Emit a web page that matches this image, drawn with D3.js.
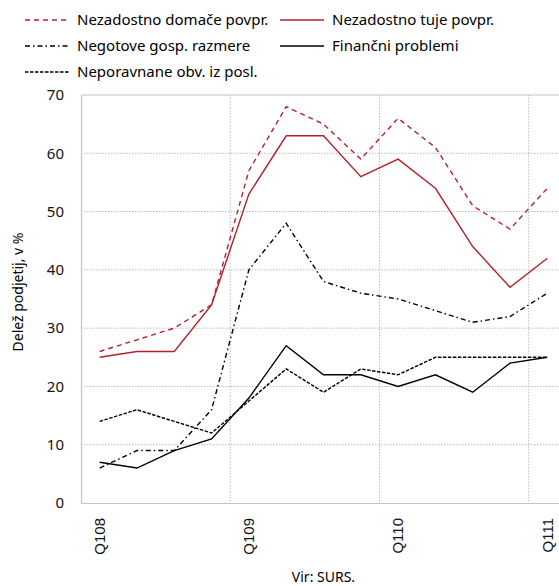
<!DOCTYPE html>
<html>
<head>
<meta charset="utf-8">
<script src="https://cdn.jsdelivr.net/npm/d3@7"></script>
<style>
  body { margin: 0; background: #fff; }
  svg { font-family: "Noto Sans", "Open Sans", sans-serif; }
</style>
</head>
<body>
<script>
// quarters, Q1 08 .. Q1 11
var quarters = ["Q1 08", "Q2 08", "Q3 08", "Q4 08", "Q1 09", "Q2 09", "Q3 09", "Q4 09",
                "Q1 10", "Q2 10", "Q3 10", "Q4 10", "Q1 11"];
var tickLabels = ["Q1 08", "Q1 09", "Q1 10", "Q1 11"];
var yTicks = [0, 10, 20, 30, 40, 50, 60, 70];

var domace = [26, 28, 30, 34, 57, 68, 65, 59, 66, 61, 51, 47, 54];
var tuje = [25, 26, 26, 34, 53, 63, 63, 56, 59, 54, 44, 37, 42];
var negotove = [6, 9, 9, 16, 40, 48, 38, 36, 35, 33, 31, 32, 36];
var financni = [7, 6, 9, 11, 18, 27, 22, 22, 20, 22, 19, 24, 25];
var neporavnane = [14, 16, 14, 12, 17.5, 23, 19, 23, 22, 25, 25, 25, 25];

var seriesNames = ["Nezadostno domače povpr.", "Nezadostno tuje povpr.", "Negotove gosp. razmere",
                   "Finančni problemi", "Neporavnane obv. iz posl."];

var red = "#b2222b";
var series = [
    {name: seriesNames[0], values: domace, color: red, dash: "5,4"},
    {name: seriesNames[1], values: tuje, color: red, dash: null},
    {name: seriesNames[2], values: negotove, color: "#000", dash: "5,3,1.5,3"},
    {name: seriesNames[3], values: financni, color: "#000", dash: null},
    {name: seriesNames[4], values: neporavnane, color: "#000", dash: "3.5,1.5"}
];

var width = 559, height = 586;
var plotLeft = 81, plotRight = 566, plotTop = 95, plotBottom = 503;

var svg = d3.select("body").append("svg")
    .attr("width", width)
    .attr("height", height);

var x = d3.scaleBand().domain(quarters).range([plotLeft, plotRight]).padding(0);
var y = d3.scaleLinear().domain([0, 70]).range([plotBottom, plotTop]);
var cx = function(q) { return x(q) + x.bandwidth() / 2; };

// horizontal grid
svg.append("g").selectAll("line")
    .data(yTicks.filter(function(t) { return t > 0 && t < 70; }))
    .enter().append("line")
    .attr("x1", plotLeft).attr("x2", plotRight)
    .attr("y1", function(d) { return y(d); }).attr("y2", function(d) { return y(d); })
    .style("stroke", "#bbb").style("stroke-width", 1).style("stroke-dasharray", "1.5,1.5");

// vertical grid at year boundaries
svg.append("g").selectAll("line")
    .data(tickLabels.slice(1))
    .enter().append("line")
    .attr("x1", function(d) { return x(d); }).attr("x2", function(d) { return x(d); })
    .attr("y1", plotTop).attr("y2", plotBottom)
    .style("stroke", "#bbb").style("stroke-width", 1).style("stroke-dasharray", "1.5,1.5");

// frame
svg.append("line").attr("x1", plotLeft).attr("x2", plotRight).attr("y1", plotTop).attr("y2", plotTop)
    .style("stroke", "#c4c4c4").style("stroke-width", 1.2);

// y axis
var yAxis = svg.append("g")
    .attr("transform", "translate(" + plotLeft + ",0)")
    .call(d3.axisLeft(y).tickValues(yTicks).tickSize(0).tickPadding(17));
yAxis.select(".domain").style("stroke", "#c4c4c4").style("stroke-width", 1.2);
yAxis.selectAll("text").style("font-size", "15px").style("fill", "#111")
    .style("font-family", "Noto Sans");

// x axis
var xAxis = svg.append("g")
    .attr("transform", "translate(0," + plotBottom + ")")
    .call(d3.axisBottom(x).tickValues(tickLabels).tickSize(0).tickFormat(function(d) { return d.replace(" ", ""); }));
xAxis.select(".domain").style("stroke", "#c4c4c4").style("stroke-width", 1.2);
xAxis.selectAll("text")
    .style("font-size", "15px").style("fill", "#111")
    .attr("text-anchor", "end")
    .attr("dy", "0.35em")
    .attr("y", 0)
    .attr("transform", "translate(0,15) rotate(-90)");

// axis titles
svg.append("text")
    .attr("transform", "translate(23,292) rotate(-90)")
    .attr("text-anchor", "middle")
    .style("font-size", "14px")
    .text("Delež podjetij, v %");

svg.append("text")
    .attr("x", (plotLeft + plotRight) / 2)
    .attr("y", 582)
    .attr("text-anchor", "middle")
    .style("font-size", "14px")
    .text("Vir: SURS.");

// lines
var line = d3.line()
    .x(function(d, i) { return cx(quarters[i]); })
    .y(function(d) { return y(d); });

svg.append("g").selectAll("path")
    .data(series)
    .enter().append("path")
    .attr("d", function(d) { return line(d.values); })
    .style("fill", "none")
    .style("stroke", function(d) { return d.color; })
    .style("stroke-width", 1.4)
    .style("stroke-dasharray", function(d) { return d.dash; });

// legend
var legendPos = [[25, 20], [280, 20], [25, 46], [280, 46], [25, 72]];
var legend = svg.append("g").selectAll("g")
    .data(series)
    .enter().append("g")
    .attr("transform", function(d, i) { return "translate(" + legendPos[i][0] + "," + legendPos[i][1] + ")"; });

legend.append("line")
    .attr("x1", 0).attr("x2", 44).attr("y1", 0).attr("y2", 0)
    .style("stroke", function(d) { return d.color; })
    .style("stroke-width", 1.4)
    .style("stroke-dasharray", function(d) { return d.dash; });

legend.append("text")
    .attr("x", 52)
    .attr("dy", "0.35em")
    .style("font-size", "15px")
    .text(function(d) { return d.name; });
</script>
</body>
</html>
